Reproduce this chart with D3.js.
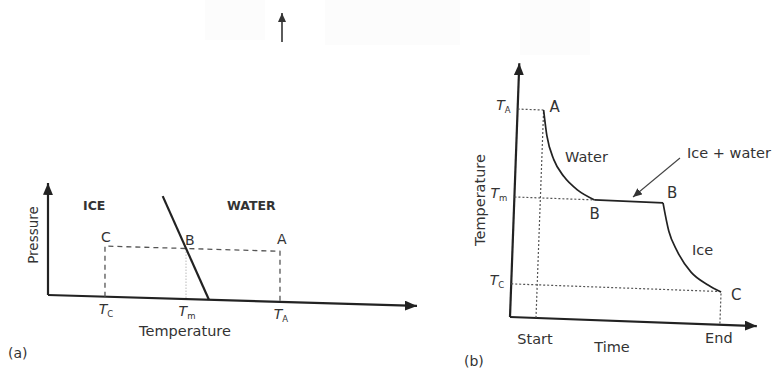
<!DOCTYPE html>
<html>
<head>
<meta charset="utf-8">
<script src="https://cdn.jsdelivr.net/npm/d3@7"></script>
<style>
  body { margin: 0; background: #fff; }
  text { font-family: "DejaVu Sans", sans-serif; fill: #333; }
</style>
</head>
<body>
<svg id="chart" width="783" height="374"></svg>
<script>
// ---- panel (a): pressure / temperature phase diagram ----
var aTickNames = ["C", "m", "A"];
var aTickTemps = [1.54, 3.73, 6.27];          // Tc, Tm, TA on the temperature axis
var aPathPressure = 4.4;                      // the C - B - A isobar
var meltLine = [[3.1, 8.9], [4.35, 0]];       // ice / water boundary

// ---- panel (b): cooling curve, in three pieces ----
var waterTime = [1.04, 1.21, 1.52, 1.95, 2.52, 3.21];
var waterTemp = [8.16, 7.15, 6.23, 5.58, 5.07, 4.71];
var plateauTime = [3.21, 5.95];
var plateauTemp = [4.71, 4.69];
var iceTime = [5.95, 6.22, 6.58, 7.17, 7.87, 8.4];
var iceTemp = [4.69, 3.6, 2.83, 2.02, 1.54, 1.28];
var bTickNames = ["A", "m", "C"];
var bTickTemps = [8.16, 4.71, 1.3];
var startTime = 1.04, endTime = 8.4;

var svg = d3.select("#chart");
svg.append("rect").attr("width", 783).attr("height", 374).attr("fill", "#fff");

// faint scan marks at the top
[[205, 0, 60, 40], [325, 0, 135, 45], [520, 0, 70, 55]].forEach(function(r) {
  svg.append("rect").attr("x", r[0]).attr("y", r[1]).attr("width", r[2]).attr("height", r[3])
    .attr("fill", "#fcfcfc");
});

var defs = svg.append("defs");
defs.append("marker").attr("id", "head")
  .attr("viewBox", "0 -5 12 10").attr("refX", 12).attr("refY", 0)
  .attr("markerUnits", "userSpaceOnUse").attr("markerWidth", 12).attr("markerHeight", 10)
  .attr("orient", "auto")
  .append("path").attr("d", "M0,-5L12,0L0,5Z").attr("fill", "#222");
defs.append("marker").attr("id", "small")
  .attr("viewBox", "0 -4 9 8").attr("refX", 9).attr("refY", 0)
  .attr("markerUnits", "userSpaceOnUse").attr("markerWidth", 9).attr("markerHeight", 8)
  .attr("orient", "auto")
  .append("path").attr("d", "M0,-4L9,0L0,4Z").attr("fill", "#333");

// little arrow at the top
svg.append("line").attr("x1", 282).attr("y1", 42).attr("x2", 282).attr("y2", 13)
  .attr("stroke", "#333").attr("stroke-width", 1.6).attr("marker-end", "url(#small)");

// ===================== panel (a) =====================
var ax = d3.scaleLinear().domain([0, 10]).range([0, 370]);
var ay = d3.scaleLinear().domain([0, 10]).range([0, -115]);
var aSkew = 0.03;
function pa(t, p) { var u = ax(t), v = ay(p); return [48 + u, 295 + v + u * aSkew]; }

var ga = svg.append("g").attr("transform", "translate(48,295) skewY(1.7)");
var line = d3.line();

ga.append("path").attr("d", line([[0, 0], [0, -112]]))
  .attr("stroke", "#222").attr("stroke-width", 2.2).attr("fill", "none").attr("marker-end", "url(#head)");
ga.append("path").attr("d", line([[0, 0], [369, 0]]))
  .attr("stroke", "#222").attr("stroke-width", 2.2).attr("fill", "none").attr("marker-end", "url(#head)");

// dashed isobar with drops to the axis
ga.append("path")
  .attr("d", line([[ax(aTickTemps[0]), 0], [ax(aTickTemps[0]), ay(aPathPressure)],
                   [ax(aTickTemps[2]), ay(aPathPressure)], [ax(aTickTemps[2]), 0]]))
  .attr("stroke", "#555").attr("stroke-width", 1.3).attr("fill", "none").attr("stroke-dasharray", "5,4");
ga.append("line")
  .attr("x1", ax(aTickTemps[1])).attr("y1", ay(aPathPressure))
  .attr("x2", ax(aTickTemps[1])).attr("y2", 0)
  .attr("stroke", "#bbb").attr("stroke-width", 1).attr("stroke-dasharray", "1.5,1.5");

ga.append("path").attr("d", line(meltLine.map(function(d) { return [ax(d[0]), ay(d[1])]; })))
  .attr("stroke", "#222").attr("stroke-width", 2.2).attr("fill", "none");

var ta = svg.append("g");
function label(g, xy, txt, opts) {
  opts = opts || {};
  return g.append("text").attr("x", xy[0]).attr("y", xy[1])
    .attr("text-anchor", opts.anchor || "start")
    .attr("font-size", opts.size || 14)
    .attr("font-weight", opts.weight || "normal")
    .text(txt);
}
function tLabel(g, xy, sub, anchor) {
  var t = g.append("text").attr("x", xy[0]).attr("y", xy[1]).attr("text-anchor", anchor || "middle")
    .attr("font-size", 14);
  t.append("tspan").attr("font-style", "italic").text("T");
  t.append("tspan").attr("font-size", 8.5).attr("dy", 3).text(sub);
}

label(ta, [83, 210], "ICE", { size: 12.5, weight: "bold" });
label(ta, [227, 210], "WATER", { size: 12.5, weight: "bold" });
label(ta, [pa(aTickTemps[0], aPathPressure)[0] + 1, pa(aTickTemps[0], aPathPressure)[1] - 4], "C", { anchor: "middle", size: 14 });
label(ta, [pa(aTickTemps[1], aPathPressure)[0] - 1, pa(aTickTemps[1], aPathPressure)[1] - 4], "B", { size: 14 });
label(ta, [pa(aTickTemps[2], aPathPressure)[0] - 3, pa(aTickTemps[2], aPathPressure)[1] - 7], "A", { size: 14 });
aTickTemps.forEach(function(t, i) {
  var p = pa(t, 0);
  tLabel(ta, [p[0] + 1, p[1] + 17], aTickNames[i]);
});
label(ta, [185, 336], "Temperature", { anchor: "middle", size: 14.5 });
label(ta, [8, 358], "(a)", { size: 14 });
ta.append("text").attr("transform", "translate(38,235) rotate(-90)")
  .attr("text-anchor", "middle").attr("font-size", 13.5).text("Pressure");

// ===================== panel (b) =====================
var bx = d3.scaleLinear().domain([0, 10]).range([0, 250]);
var by = d3.scaleLinear().domain([0, 10]).range([0, -255]);
var ang = 2.1 * Math.PI / 180, ca = Math.cos(ang), sa = Math.sin(ang);
function pb(t, T) { var u = bx(t), v = by(T); return [510 + u * ca - v * sa, 317 + u * sa + v * ca]; }

var gb = svg.append("g").attr("transform", "translate(510,317) rotate(2.1)");

gb.append("path").attr("d", line([[0, 0], [0, -254]]))
  .attr("stroke", "#222").attr("stroke-width", 2.2).attr("fill", "none").attr("marker-end", "url(#head)");
gb.append("path").attr("d", line([[0, 0], [247, 0]]))
  .attr("stroke", "#222").attr("stroke-width", 2.2).attr("fill", "none").attr("marker-end", "url(#head)");

var dotted = function(pts) {
  gb.append("path").attr("d", line(pts.map(function(d) { return [bx(d[0]), by(d[1])]; })))
    .attr("stroke", "#555").attr("stroke-width", 1.2).attr("fill", "none").attr("stroke-dasharray", "2,2");
};
dotted([[0, bTickTemps[0]], [startTime, bTickTemps[0]], [startTime, 0]]);
dotted([[0, bTickTemps[1]], [plateauTime[0], bTickTemps[1]]]);
dotted([[0, bTickTemps[2]], [endTime, bTickTemps[2]], [endTime, 0]]);

var curve = d3.line().curve(d3.curveMonotoneX);
function drawPiece(ts, Ts) {
  gb.append("path").attr("d", curve(ts.map(function(t, i) { return [bx(t), by(Ts[i])]; })))
    .attr("stroke", "#222").attr("stroke-width", 1.7).attr("fill", "none");
}
drawPiece(waterTime, waterTemp);
drawPiece(plateauTime, plateauTemp);
drawPiece(iceTime, iceTemp);

var tb = svg.append("g");
bTickTemps.forEach(function(T, i) {
  var p = pb(0, T);
  tLabel(tb, [p[0] - 7, p[1] + 1], bTickNames[i], "end");
});
var pA = pb(waterTime[0], waterTemp[0]);
label(tb, [pA[0] + 6, pA[1] + 2], "A", { size: 15 });
var pB1 = pb(plateauTime[0], plateauTemp[0]);
label(tb, [pB1[0], pB1[1] + 19], "B", { anchor: "middle", size: 15 });
var pB2 = pb(plateauTime[1], plateauTemp[1]);
label(tb, [pB2[0] + 4, pB2[1] - 5], "B", { size: 15 });
var pC = pb(endTime, iceTemp[iceTemp.length - 1]);
label(tb, [pC[0] + 10, pC[1] + 8], "C", { size: 15 });

label(tb, [565, 162], "Water", { size: 14.5 });
label(tb, [687, 158], "Ice + water", { size: 14.5 });
label(tb, [692, 255], "Ice", { size: 14.5 });
svg.append("line").attr("x1", 680).attr("y1", 158).attr("x2", 633).attr("y2", 197)
  .attr("stroke", "#444").attr("stroke-width", 1.1).attr("marker-end", "url(#small)");

var pS = pb(startTime, 0), pE = pb(endTime, 0);
label(tb, [pS[0] - 1, pS[1] + 26], "Start", { anchor: "middle", size: 14.5 });
label(tb, [pE[0] - 1, pE[1] + 18], "End", { anchor: "middle", size: 14.5 });
label(tb, [612, 352], "Time", { anchor: "middle", size: 14.5 });
label(tb, [464, 366], "(b)", { size: 14 });
tb.append("text").attr("transform", "translate(485,200) rotate(-90)")
  .attr("text-anchor", "middle").attr("font-size", 14.5).text("Temperature");
</script>
</body>
</html>
